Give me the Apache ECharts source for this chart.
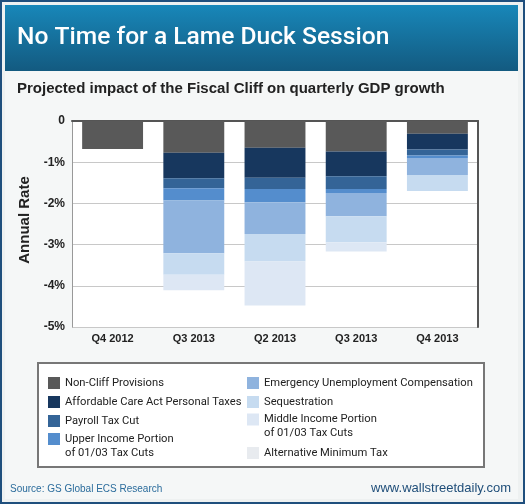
<!DOCTYPE html>
<html>
<head>
<meta charset="utf-8">
<script src="https://cdn.jsdelivr.net/npm/echarts@6/dist/echarts.min.js"></script>
<style>
html,body{margin:0;padding:0;background:#eef1f1;}
#chart{width:525px;height:504px;}
</style>
</head>
<body>
<div id="chart"></div>
<script>
// ---- data ----
const categories = ['Q4 2012', 'Q3 2013', 'Q2 2013', 'Q3 2013', 'Q4 2013'];
const seriesNames = [
  'Non-Cliff Provisions',
  'Affordable Care Act Personal Taxes',
  'Payroll Tax Cut',
  'Upper Income Portion\nof 01/03 Tax Cuts',
  'Emergency Unemployment Compensation',
  'Sequestration',
  'Middle Income Portion\nof 01/03 Tax Cuts',
  'Alternative Minimum Tax'
];
const nonCliff  = [-0.68, -0.77, -0.65, -0.74, -0.31];
const aca       = [0, -0.62, -0.73, -0.60, -0.38];
const payroll   = [0, -0.24, -0.27, -0.31, -0.15];
const upperInc  = [0, -0.30, -0.32, -0.10, -0.06];
const euc       = [0, -1.28, -0.77, -0.56, -0.41];
const seq       = [0, -0.52, -0.67, -0.63, -0.39];
const middleInc = [0, -0.38, -1.07, -0.23, 0];
const amt       = [0, 0, 0, 0, 0];
const yTickValues = [0, -1, -2, -3, -4, -5];
const yTickLabels = ['0', '-1%', '-2%', '-3%', '-4%', '-5%'];

const seriesData = [nonCliff, aca, payroll, upperInc, euc, seq, middleInc, amt];
const colors = ['#595959', '#17375e', '#346497', '#548dcd', '#8fb3de', '#c6dbf0', '#dde7f4', '#e8ebef'];

const chart = echarts.init(document.getElementById('chart'), null, {renderer: 'canvas'});

const legendPos = [
  {left: 48, c: 382},
  {left: 48, c: 401},
  {left: 48, c: 420},
  {left: 48, c: 439, multi: true},
  {left: 247, c: 382},
  {left: 247, c: 401},
  {left: 247, c: 419.5, multi: true},
  {left: 247, c: 452}
];
const IH = 12;
const LH = 14;
const legends = seriesNames.map((n, i) => {
  const p = legendPos[i];
  const ts = {fontFamily: 'Roboto', fontSize: 11.2, color: '#222', lineHeight: LH};
  let top = p.c - IH / 2;
  let formatter = name => name;
  if (p.multi) {
    // blank leading line so the first text line sits beside the swatch
    formatter = name => ' \n' + name;
    top = p.c - (3 * LH) / 2;
  }
  return {
    show: true, orient: 'vertical', left: p.left, top: top, padding: 0,
    itemWidth: 12, itemHeight: IH, selectedMode: false,
    data: [{name: n, icon: 'rect'}],
    formatter: formatter,
    textStyle: ts
  };
});

const option = {
  animation: false,
  backgroundColor: 'transparent',
  graphic: [
    {type: 'rect', z: -10, shape: {x: 1, y: 1, width: 523, height: 502}, style: {fill: '#eef1f1', stroke: '#1f4f7d', lineWidth: 2}},
    {type: 'rect', z: -9, shape: {x: 5, y: 5, width: 513, height: 494}, style: {fill: '#f5f7f7'}},
    {type: 'rect', z: -8, shape: {x: 5, y: 5, width: 513, height: 66},
      style: {fill: new echarts.graphic.LinearGradient(0, 0, 0, 1, [{offset: 0, color: '#1887b9'}, {offset: 1, color: '#135a80'}])}},
    {type: 'rect', z: -8, shape: {x: 38, y: 363, width: 446, height: 104}, style: {fill: '#ffffff', stroke: '#777', lineWidth: 2}}
  ],
  title: [
    {text: 'No Time for a Lame Duck Session', left: 17, top: 25, padding: 0,
      textStyle: {color: '#ffffff', fontFamily: 'Roboto', fontWeight: 500, fontSize: 24.6}},
    {text: 'Projected impact of the Fiscal Cliff on quarterly GDP growth', left: 17, top: 81, padding: 0,
      textStyle: {color: '#222', fontFamily: 'Liberation Sans', fontWeight: 'bold', fontSize: 15}},
    {text: 'Source: GS Global ECS Research', left: 10, top: 484, padding: 0,
      textStyle: {color: '#2b6c9c', fontFamily: 'Liberation Sans', fontWeight: 'normal', fontSize: 10}},
    {text: 'www.wallstreetdaily.com', right: 14, top: 482, padding: 0,
      textStyle: {color: '#1f4e79', fontFamily: 'Liberation Sans', fontWeight: 'normal', fontSize: 13}}
  ],
  legend: legends,
  grid: {left: 72, right: 47, top: 121, bottom: 177, show: true, backgroundColor: '#ffffff', borderWidth: 0},
  xAxis: {
    type: 'category', data: categories,
    axisLine: {show: true, lineStyle: {color: '#555', width: 2}},
    axisTick: {show: false},
    axisLabel: {color: '#222', fontFamily: 'Liberation Sans', fontWeight: 'bold', fontSize: 11, margin: 6}
  },
  yAxis: [{
    type: 'value', min: -5, max: 0, interval: 1,
    name: 'Annual Rate', nameLocation: 'middle', nameGap: 34, nameRotate: 90,
    nameTextStyle: {color: '#222', fontFamily: 'Liberation Sans', fontWeight: 'bold', fontSize: 15, padding: [0, 0, 0, 8]},
    axisLine: {show: true, lineStyle: {color: '#999', width: 1}},
    axisTick: {show: false},
    splitLine: {show: true, lineStyle: {color: '#c8c8c8', width: 1}},
    axisLabel: {color: '#222', fontFamily: 'Liberation Sans', fontWeight: 'bold', fontSize: 12, margin: 7,
      formatter: v => yTickLabels[yTickValues.indexOf(v)]}
  }, {
    type: 'value', min: -5, max: 0, interval: 1, position: 'right',
    axisLine: {show: true, lineStyle: {color: '#555', width: 2}},
    axisTick: {show: false}, axisLabel: {show: false}, splitLine: {show: false}
  }],
  series: seriesNames.map((n, i) => ({
    name: n, type: 'bar', stack: 'total', barWidth: '75%',
    data: seriesData[i],
    itemStyle: {color: colors[i]},
    emphasis: {disabled: true}
  }))
};
chart.setOption(option);
</script>
</body>
</html>
